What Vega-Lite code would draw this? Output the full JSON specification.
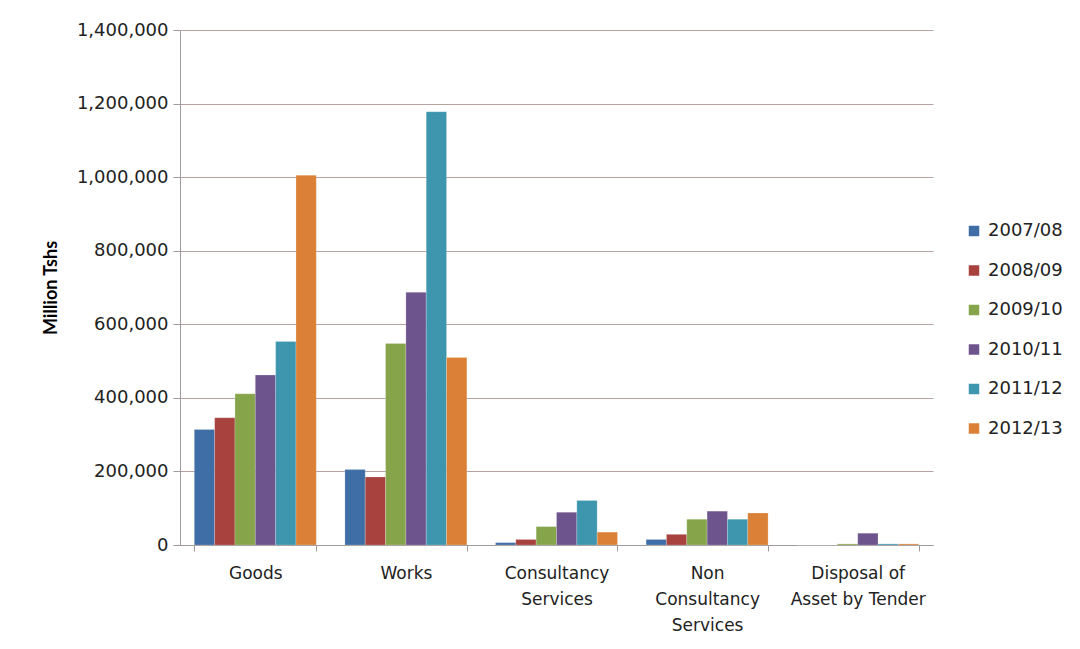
{
  "$schema": "https://vega.github.io/schema/vega-lite/v6.json",
  "width": 753,
  "height": 515,
  "autosize": {"type": "none"},
  "padding": {"left": 180, "top": 30, "right": 147, "bottom": 104},
  "background": "#ffffff",
  "data": {
    "values": [
      {"cat": "Goods", "year": "2007/08", "v": 314000},
      {"cat": "Goods", "year": "2008/09", "v": 346000},
      {"cat": "Goods", "year": "2009/10", "v": 411000},
      {"cat": "Goods", "year": "2010/11", "v": 462000},
      {"cat": "Goods", "year": "2011/12", "v": 553000},
      {"cat": "Goods", "year": "2012/13", "v": 1005000},
      {"cat": "Works", "year": "2007/08", "v": 205000},
      {"cat": "Works", "year": "2008/09", "v": 185000},
      {"cat": "Works", "year": "2009/10", "v": 548000},
      {"cat": "Works", "year": "2010/11", "v": 687000},
      {"cat": "Works", "year": "2011/12", "v": 1178000},
      {"cat": "Works", "year": "2012/13", "v": 510000},
      {"cat": "Consultancy Services", "year": "2007/08", "v": 6500},
      {"cat": "Consultancy Services", "year": "2008/09", "v": 15000},
      {"cat": "Consultancy Services", "year": "2009/10", "v": 50000},
      {"cat": "Consultancy Services", "year": "2010/11", "v": 89000},
      {"cat": "Consultancy Services", "year": "2011/12", "v": 121000},
      {"cat": "Consultancy Services", "year": "2012/13", "v": 35000},
      {"cat": "Non Consultancy Services", "year": "2007/08", "v": 15000},
      {"cat": "Non Consultancy Services", "year": "2008/09", "v": 29000},
      {"cat": "Non Consultancy Services", "year": "2009/10", "v": 70000},
      {"cat": "Non Consultancy Services", "year": "2010/11", "v": 92000},
      {"cat": "Non Consultancy Services", "year": "2011/12", "v": 70000},
      {"cat": "Non Consultancy Services", "year": "2012/13", "v": 87000},
      {"cat": "Disposal of Asset by Tender", "year": "2007/08", "v": 0},
      {"cat": "Disposal of Asset by Tender", "year": "2008/09", "v": 0},
      {"cat": "Disposal of Asset by Tender", "year": "2009/10", "v": 3000},
      {"cat": "Disposal of Asset by Tender", "year": "2010/11", "v": 32000},
      {"cat": "Disposal of Asset by Tender", "year": "2011/12", "v": 3000},
      {"cat": "Disposal of Asset by Tender", "year": "2012/13", "v": 3000}
    ]
  },
  "mark": {"type": "bar", "stroke": "#ffffff", "strokeWidth": 0.5, "strokeOpacity": 0.4},
  "encoding": {
    "x": {
      "field": "cat",
      "type": "nominal",
      "sort": null,
      "scale": {"paddingInner": 0.19, "paddingOuter": 0.095},
      "axis": {
        "title": null,
        "labelAngle": 0,
        "labelFont": "DejaVu Sans",
        "labelFontSize": 17,
        "labelColor": "#222222",
        "labelPadding": 14,
        "labelLineHeight": 26,
        "labelExpr": "datum.value == 'Consultancy Services' ? ['Consultancy', 'Services'] : datum.value == 'Non Consultancy Services' ? ['Non', 'Consultancy', 'Services'] : datum.value == 'Disposal of Asset by Tender' ? ['Disposal of', 'Asset by Tender'] : datum.value",
        "domainColor": "#a09a9a",
        "tickColor": "#a09a9a",
        "tickSize": 6,
        "tickBand": "extent",
        "grid": false
      }
    },
    "xOffset": {"field": "year", "type": "nominal", "scale": {"paddingInner": 0, "paddingOuter": 0}},
    "y": {
      "field": "v",
      "type": "quantitative",
      "scale": {"domain": [0, 1400000], "nice": false},
      "axis": {
        "title": "Million Tshs",
        "titleFont": "Lato",
        "titleFontSize": 18,
        "titleFontWeight": "bold",
        "titleColor": "#000000",
        "titlePadding": 16,
        "values": [0, 200000, 400000, 600000, 800000, 1000000, 1200000, 1400000],
        "format": ",d",
        "labelFont": "DejaVu Sans",
        "labelFontSize": 18,
        "labelColor": "#222222",
        "labelPadding": 5,
        "tickSize": 7,
        "tickColor": "#a09a9a",
        "domainColor": "#a09a9a",
        "gridColor": "#b8a2a2",
        "gridWidth": 1.2
      }
    },
    "color": {
      "field": "year",
      "type": "nominal",
      "scale": {
        "domain": ["2007/08", "2008/09", "2009/10", "2010/11", "2011/12", "2012/13"],
        "range": ["#3f6ea6", "#a8423f", "#86a44a", "#6e548d", "#3d96ae", "#da8137"]
      },
      "legend": {
        "title": null,
        "orient": "none",
        "legendX": 785,
        "legendY": 192,
        "symbolType": "square",
        "symbolSize": 110,
        "symbolStrokeWidth": 0,
        "labelFont": "DejaVu Sans",
        "labelFontSize": 18,
        "labelColor": "#222222",
        "rowPadding": 21.5,
        "labelOffset": 5
      }
    }
  },
  "config": {"view": {"stroke": null}}
}
